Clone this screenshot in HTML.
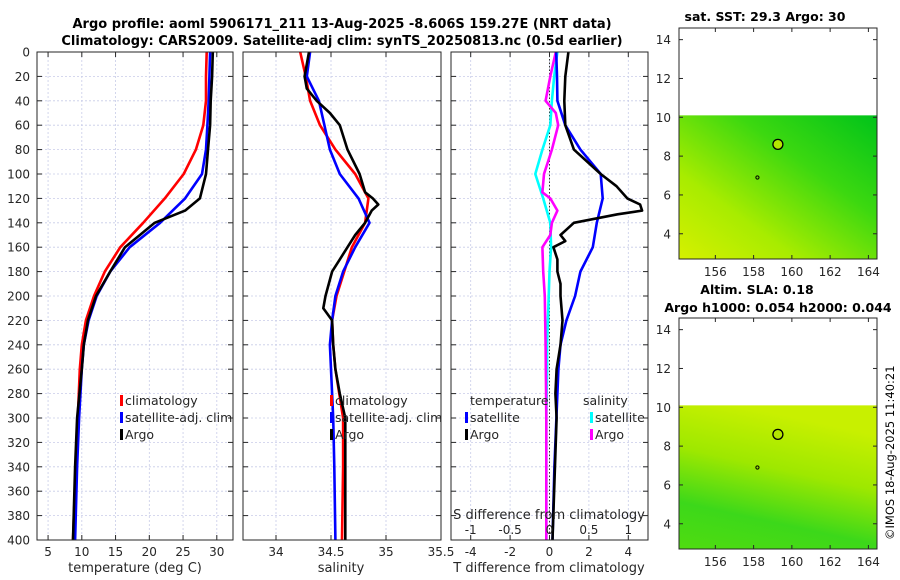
<!DOCTYPE html>
<html><head><meta charset="utf-8"><style>
body{margin:0;background:#fff;}
svg{display:block;font-family:"DejaVu Sans","Liberation Sans",sans-serif;}
</style></head><body>
<svg id="c" width="900" height="580" viewBox="0 0 900 580">
<defs>
<linearGradient id="g1" x1="1" y1="0" x2="0" y2="1">
<stop offset="0" stop-color="#00c31a"/><stop offset="0.35" stop-color="#3cd810"/><stop offset="0.7" stop-color="#a8ec00"/><stop offset="1" stop-color="#d6f000"/></linearGradient>
<linearGradient id="g2" x1="0.3" y1="0" x2="0" y2="1">
<stop offset="0" stop-color="#c8f000"/><stop offset="0.35" stop-color="#9ee800"/><stop offset="0.7" stop-color="#3cd81a"/><stop offset="1" stop-color="#50dc10"/></linearGradient>
</defs>
<text x="342" y="28" text-anchor="middle" font-size="13" font-weight="bold">Argo profile: aoml 5906171_211 13-Aug-2025 -8.606S 159.27E (NRT data)</text>
<text x="342" y="45" text-anchor="middle" font-size="13" font-weight="bold">Climatology: CARS2009. Satellite-adj clim: synTS_20250813.nc (0.5d earlier)</text>
<g id="plots"></g>
<text x="765" y="21" text-anchor="middle" font-size="12.5" font-weight="bold">sat. SST: 29.3 Argo: 30</text>
<text x="757" y="294" text-anchor="middle" font-size="12.5" font-weight="bold">Altim. SLA: 0.18</text>
<text x="778" y="312" text-anchor="middle" font-size="12.5" font-weight="bold">Argo h1000: 0.054 h2000: 0.044</text>
<text transform="translate(894,540) rotate(-90)" font-size="11.5">©IMOS 18-Aug-2025 11:40:21</text>
</svg>
<script>
const depths = [0,20,40,60,80,100,120,140,160,180,200,220,240,260,300,340,400];
const tempClim = [28.5,28.4,28.4,28.0,26.9,25.1,22.3,19.1,15.7,13.4,11.8,10.6,10.0,9.7,9.4,9.1,8.7];
const tempSat  = [29.0,28.9,28.8,28.6,28.4,27.8,25.3,21.6,17.1,14.2,12.2,11.0,10.3,10.0,9.6,9.3,9.0];
const argoDepths = [0,20,40,60,80,100,120,130,140,150,160,180,200,220,240,260,300,340,400];
const tempArgo = [29.4,29.3,29.1,29.0,28.7,28.4,27.5,25.3,20.8,18.6,16.4,14.2,12.1,10.9,10.3,10.0,9.3,9.0,8.7];
const salClim = [34.22,34.27,34.31,34.40,34.54,34.72,34.84,34.81,34.69,34.62,34.55,34.51,34.52,34.54,34.61,34.61,34.60];
const salSat  = [34.31,34.28,34.39,34.44,34.49,34.58,34.75,34.85,34.72,34.61,34.54,34.51,34.49,34.50,34.52,34.53,34.54];
const salArgoDepths = [0,10,20,30,40,50,60,80,100,115,120,125,130,140,150,160,170,180,200,210,220,240,260,280,300,350,400];
const salArgo = [34.30,34.28,34.26,34.28,34.37,34.49,34.58,34.65,34.76,34.81,34.88,34.93,34.87,34.81,34.72,34.65,34.58,34.51,34.45,34.43,34.51,34.52,34.54,34.58,34.63,34.63,34.63];
const tDiffSat = [0.34,0.38,0.40,0.80,1.57,2.60,2.70,2.40,2.20,1.57,1.30,0.86,0.56,0.45,0.35,0.25,0.15];
const tDiffArgoDepths = [0,20,40,60,80,100,110,120,125,130,133,140,145,150,155,160,170,180,190,200,220,240,260,280,300,400];
const tDiffArgo = [0.96,0.80,0.75,0.80,1.24,2.60,3.40,3.95,4.60,4.70,3.45,1.24,0.90,0.56,0.80,0.20,0.40,0.40,0.56,0.56,0.66,0.56,0.36,0.30,0.36,0.15];
const sDiffSat = [0.10,0.06,0.03,0.01,-0.09,-0.18,-0.08,0.01,0.02,0.0,-0.01,-0.02,-0.03,-0.03,-0.04,-0.04,-0.04];
const sDiffArgoDepths = [0,20,40,50,60,80,100,115,120,130,140,150,160,180,200,240,300,400];
const sDiffArgo = [0.08,0.01,-0.05,0.08,0.11,0.03,-0.07,-0.09,0.01,0.10,0.03,0.01,-0.09,-0.08,-0.06,-0.05,-0.04,-0.04];
const depthTicks = [0,20,40,60,80,100,120,140,160,180,200,220,240,260,280,300,320,340,360,380,400];
const tempTicks = [5,10,15,20,25,30];
const salTicks = [34,34.5,35,35.5];
const tDiffTicks = [-4,-2,0,2,4];
const sDiffTicks = [-1,-0.5,0,0.5,1];
const latTicks = [4,6,8,10,12,14];
const lonTicks = [156,158,160,162,164];

const NS="http://www.w3.org/2000/svg";
const root=document.getElementById('plots');
function el(tag,attrs,parent){const e=document.createElementNS(NS,tag);for(const k in attrs)e.setAttribute(k,attrs[k]);(parent||root).appendChild(e);return e;}
function txt(x,y,s,size,anchor,parent){const t=el('text',{x:x,y:y,'font-size':size,'text-anchor':anchor||'middle',fill:'#262626'},parent);t.textContent=s;return t;}
const Y0=52,Y1=540;
const yD=d=>Y0+(d/400)*(Y1-Y0);
function panel(name,x0,x1,dmin,dmax,ticks,gridTicks){
  const g=el('g',{});
  
  
  const sx=v=>x0+(v-dmin)/(dmax-dmin)*(x1-x0);
  depthTicks.forEach(d=>{el('line',{x1:x0,x2:x1,y1:yD(d),y2:yD(d),stroke:'#c8cce8','stroke-width':0.8,'stroke-dasharray':'2,2'},g);
    el('line',{x1:x0,x2:x0+5,y1:yD(d),y2:yD(d),stroke:'#262626'},g);el('line',{x1:x1-5,x2:x1,y1:yD(d),y2:yD(d),stroke:'#262626'},g);});
  (gridTicks||ticks).forEach(v=>{el('line',{x1:sx(v),x2:sx(v),y1:Y0,y2:Y1,stroke:'#c8cce8','stroke-width':0.8,'stroke-dasharray':'2,2'},g);});
  ticks.forEach(v=>{el('line',{x1:sx(v),x2:sx(v),y1:Y1,y2:Y1-5,stroke:'#262626'},g);el('line',{x1:sx(v),x2:sx(v),y1:Y0,y2:Y0+5,stroke:'#262626'},g);
    const t=txt(sx(v),556,String(v),12,'middle',g);});
  return {g,sx};
}
function line(g,sx,xs,ds,color,name,w){
  const p=el('polyline',{points:xs.map((v,i)=>sx(v).toFixed(1)+','+yD(ds[i]).toFixed(1)).join(' '),fill:'none',stroke:color,'stroke-width':w||2.6,'stroke-linejoin':'round'},g);
  
  
}
function frame(g,x0,x1,y0,y1){el('rect',{x:x0,y:y0,width:x1-x0,height:y1-y0,fill:'none',stroke:'#262626','stroke-width':1},g);}
function legendItem(g,x,y,color,label){
  if(color)el('rect',{x:x,y:y-10,width:3,height:11,fill:color},g);
  const t=txt(x+5,y,label,12.5,'start',g);
}
// Panel 1
let P=panel('temperature-panel',37,233,3.36,32.4,tempTicks);
line(P.g,P.sx,tempClim,depths,'#ff0000','climatology-temp-line');
line(P.g,P.sx,tempSat,depths,'#0000ff','satellite-temp-line');
line(P.g,P.sx,tempArgo,argoDepths,'#000000','argo-temp-line');
frame(P.g,37,233,Y0,Y1);
depthTicks.forEach(d=>{const t=txt(30,yD(d)+4.5,String(d),12,'end',P.g);});
legendItem(P.g,120,405,'#ff0000','climatology');legendItem(P.g,120,422,'#0000ff','satellite-adj. clim');legendItem(P.g,120,439,'#000000','Argo');
txt(135,572,'temperature (deg C)',13,'middle',P.g);
// Panel 2
P=panel('salinity-panel',243,441,33.7,35.5,salTicks);
line(P.g,P.sx,salClim,depths,'#ff0000','climatology-salinity-line');
line(P.g,P.sx,salSat,depths,'#0000ff','satellite-salinity-line');
line(P.g,P.sx,salArgo,salArgoDepths,'#000000','argo-salinity-line');
frame(P.g,243,441,Y0,Y1);
legendItem(P.g,330,405,'#ff0000','climatology');legendItem(P.g,330,422,'#0000ff','satellite-adj. clim');legendItem(P.g,330,439,'#000000','Argo');
txt(341,572,'salinity',13,'middle',P.g);
// Panel 3
P=panel('difference-panel',451,648,-5,5,tDiffTicks);
const sS=v=>P.sx(v*4);
el('line',{x1:P.sx(0),x2:P.sx(0),y1:Y0,y2:Y1,stroke:'#333','stroke-width':1,'stroke-dasharray':'1.5,2'},P.g);
line(P.g,sS,sDiffSat,depths,'#00ffff','satellite-sdiff-line');
line(P.g,sS,sDiffArgo,sDiffArgoDepths,'#ff00ff','argo-sdiff-line');
line(P.g,P.sx,tDiffSat,depths,'#0000ff','satellite-tdiff-line');
line(P.g,P.sx,tDiffArgo,tDiffArgoDepths,'#000000','argo-tdiff-line');
frame(P.g,451,648,Y0,Y1);
legendItem(P.g,465,405,null,'temperature');legendItem(P.g,465,422,'#0000ff','satellite');legendItem(P.g,465,439,'#000000','Argo');
legendItem(P.g,578,405,null,'salinity');legendItem(P.g,590,422,'#00ffff','satellite');legendItem(P.g,590,439,'#ff00ff','Argo');
sDiffTicks.forEach(v=>{const t=txt(sS(v),534,String(v),12,'middle',P.g);});
txt(549,519,'S difference from climatology',13,'middle',P.g);
txt(549,572,'T difference from climatology',13,'middle',P.g);
// Maps
function map(name,top,bottom,fill){
  const g=el('g',{});
  
  
  const x0=679,x1=877,latMin=2.7,latMax=14.6,lonMin=154.1,lonMax=164.45;
  const sy=v=>bottom-(v-latMin)/(latMax-latMin)*(bottom-top);
  const sx=v=>x0+(v-lonMin)/(lonMax-lonMin)*(x1-x0);
  el('rect',{x:x0,y:sy(10.1),width:x1-x0,height:bottom-sy(10.1),fill:fill},g);
  latTicks.forEach(v=>{el('line',{x1:x0,x2:x0+4,y1:sy(v),y2:sy(v),stroke:'#262626'},g);el('line',{x1:x1-4,x2:x1,y1:sy(v),y2:sy(v),stroke:'#262626'},g);
    const t=txt(x0-8,sy(v)+4.5,String(v),12,'end',g);});
  lonTicks.forEach(v=>{el('line',{x1:sx(v),x2:sx(v),y1:bottom,y2:bottom-4,stroke:'#262626'},g);el('line',{x1:sx(v),x2:sx(v),y1:top,y2:top+4,stroke:'#262626'},g);
    const t=txt(sx(v),bottom+17,String(v),12,'middle',g);});
  const c=el('circle',{cx:sx(159.27),cy:sy(8.606),r:5,fill:'#b4e600',stroke:'#000','stroke-width':1.3},g);
  
  
  el('circle',{cx:sx(158.2),cy:sy(6.9),r:1.6,fill:'none',stroke:'#000'},g);
  el('rect',{x:x0,y:top,width:x1-x0,height:bottom-top,fill:'none',stroke:'#262626'},g);
}
map('sst-map',28,259,'url(#g1)');
map('sla-map',318,549,'url(#g2)');
</script>
</body></html>
